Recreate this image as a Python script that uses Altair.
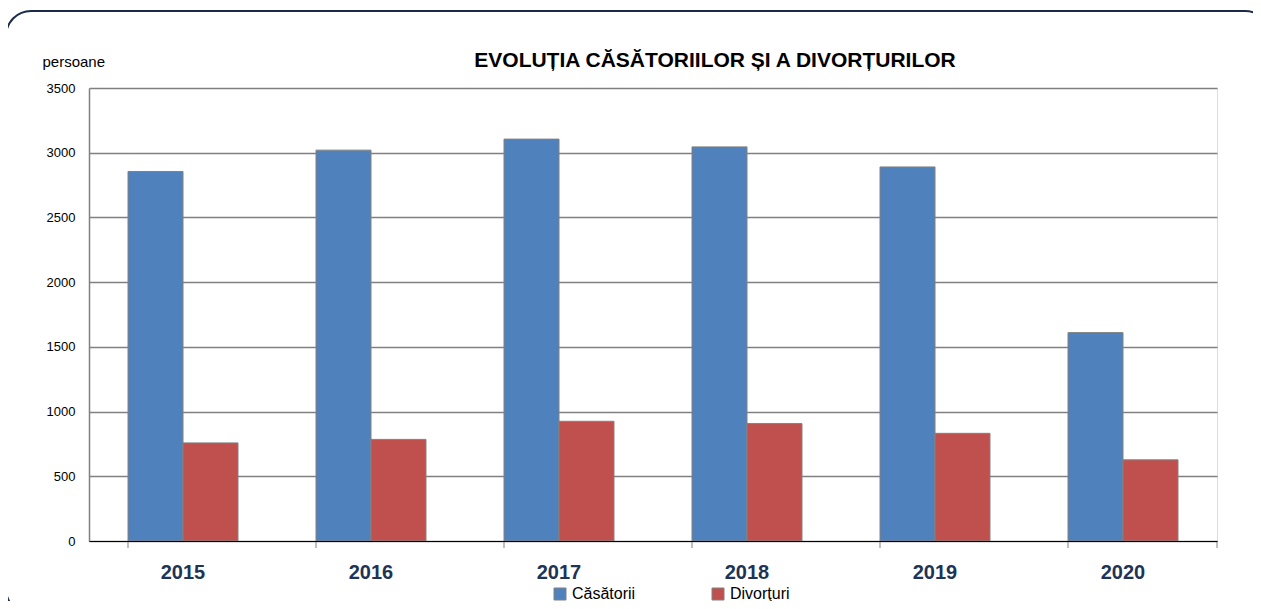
import altair as alt
import pandas as pd

years = ["2015", "2016", "2017", "2018", "2019", "2020"]
casatorii = [2855, 3020, 3105, 3045, 2890, 1610]
divorturi = [758, 785, 925, 907, 832, 627]
series_names = ["Căsătorii", "Divorţuri"]
series_colors = ["#4F81BD", "#C0504D"]
y_ticks = [0, 500, 1000, 1500, 2000, 2500, 3000, 3500]
title_text = ["EVOLUȚIA CĂSĂTORIILOR ȘI A DIVORȚURILOR"]

rows = []
for i, y in enumerate(years):
    rows.append({"year": y, "serie": series_names[0], "value": casatorii[i]})
    rows.append({"year": y, "serie": series_names[1], "value": divorturi[i]})
df = pd.DataFrame(rows)
ticks_df = pd.DataFrame({"year": years})

FONT = "Liberation Sans, Arial, sans-serif"
W, H = 1128, 453

x_scale = alt.Scale(domain=years, paddingInner=0.415, paddingOuter=0.2075)

bars = alt.Chart(df).mark_bar(stroke="#808080", strokeWidth=1).encode(
    x=alt.X("year:N", scale=x_scale, title=None,
            axis=alt.Axis(labelAngle=0, labelFont=FONT, labelFontSize=20,
                          labelFontWeight="bold", labelColor="#1F3354",
                          labelPadding=21, ticks=False, grid=False,
                          domainColor="#000000", domainWidth=1.2, zindex=2)),
    xOffset=alt.XOffset("serie:N", sort=series_names,
                        scale=alt.Scale(paddingInner=0, paddingOuter=0)),
    y=alt.Y("value:Q", scale=alt.Scale(domain=[0, 3500], nice=False),
            axis=alt.Axis(values=y_ticks, format="d", title="persoane", titleAngle=0,
                          titleX=-47, titleY=-27, titleAlign="left",
                          titleBaseline="middle", titleFont=FONT,
                          titleFontSize=15, titleFontWeight="normal",
                          titleColor="#000000",
                          labelFont=FONT, labelFontSize=13, labelColor="#000000",
                          labelPadding=14, ticks=False,
                          domainColor="#808080", domainWidth=1.5,
                          gridColor="#808080", gridWidth=1.5)),
    color=alt.Color("serie:N", sort=series_names,
                    scale=alt.Scale(domain=series_names, range=series_colors),
                    legend=alt.Legend(title=None, orient="none", legendX=463,
                                      legendY=498, direction="horizontal",
                                      symbolType="square", symbolSize=144,
                                      symbolStrokeColor="#808080",
                                      symbolStrokeWidth=1, symbolOpacity=1,
                                      labelFont=FONT, labelFontSize=16,
                                      labelColor="#000000", labelOffset=4,
                                      columnPadding=74)),
)

tick_rules = alt.Chart(ticks_df).mark_rule(color="#808080", strokeWidth=1).encode(
    x=alt.X("year:N", scale=x_scale, bandPosition=0),
    y=alt.value(H),
    y2=alt.value(H + 7),
)
last_tick = alt.Chart(ticks_df.head(1)).mark_rule(color="#808080", strokeWidth=1).encode(
    x=alt.value(W),
    y=alt.value(H),
    y2=alt.value(H + 7),
)

title = alt.Chart(pd.DataFrame({"t": title_text})).mark_text(
    font=FONT, fontSize=21, fontWeight="bold", color="#000000",
    align="center", baseline="middle"
).encode(text="t:N", x=alt.value(626), y=alt.value(-27))

border = alt.Chart(pd.DataFrame({"a": [0]})).mark_rect(
    fill=None, filled=False, stroke="#1B2A47", strokeWidth=2, cornerRadius=25
).encode(
    x=alt.value(-83), x2=alt.value(1181), y=alt.value(-77), y2=alt.value(526)
)

chart = alt.layer(bars, tick_rules, last_tick, title, border).properties(
    width=W, height=H,
    autosize=alt.AutoSizeParams(type="none"),
    padding={"left": 81, "top": 80, "right": 36, "bottom": 60},
).configure_view(fill="#C6D9F0", stroke="transparent", strokeWidth=0).configure(background="#FFFFFF")

chart.save("out.html", embed_options={"renderer": "svg", "actions": False})
